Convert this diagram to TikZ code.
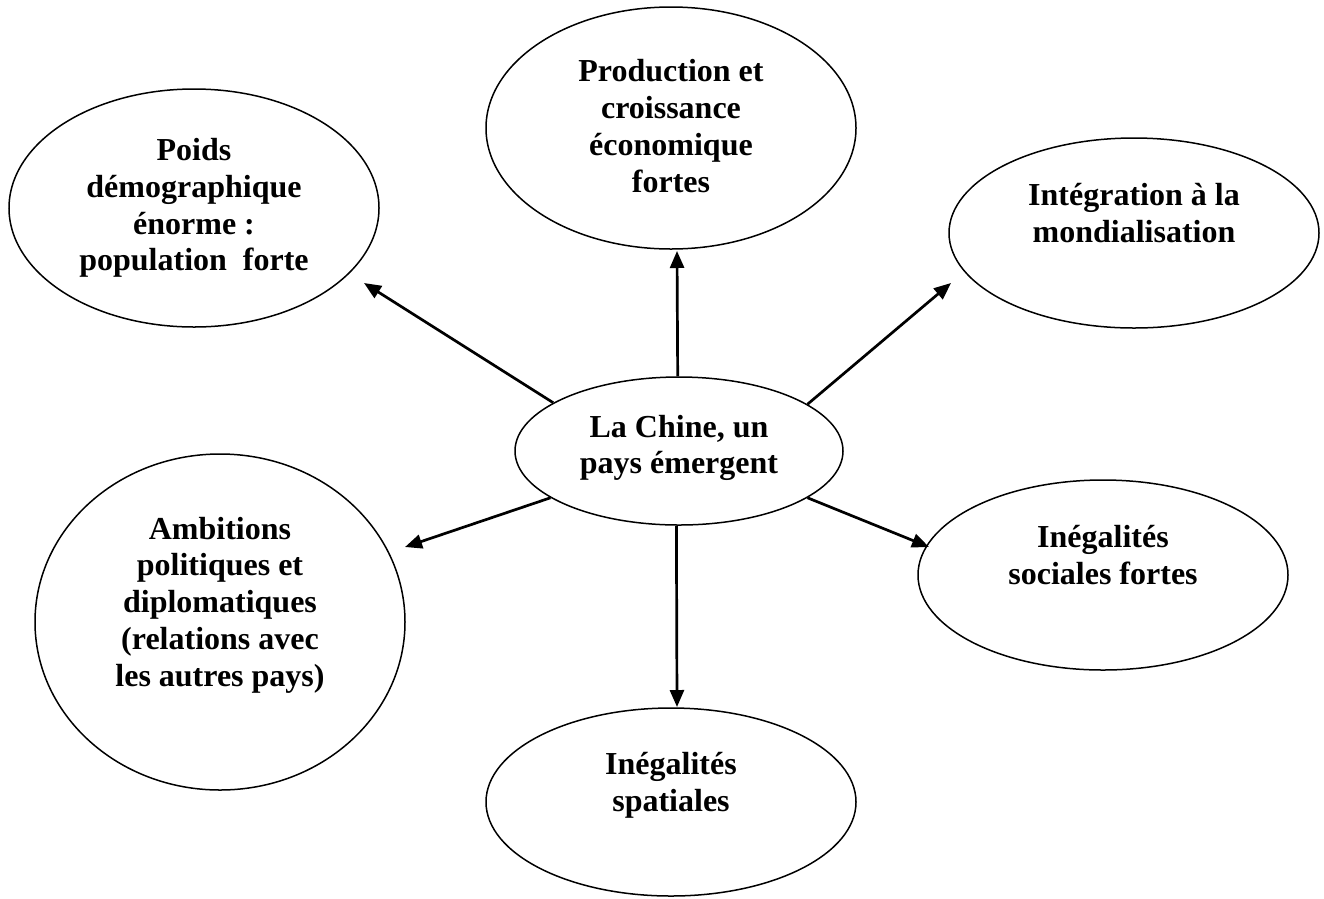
\documentclass[tikz,border=0pt]{standalone}
\usepackage{fontspec}
\setmainfont{Liberation Serif}
\usetikzlibrary{shapes.geometric,arrows.meta,calc}
\begin{document}
\begin{tikzpicture}[x=1pt,y=-1pt,
  oval/.style={draw,ellipse,line width=1.5pt,inner sep=0pt},
  lbl/.style={align=center,inner sep=0pt,font=\fontsize{32}{36.8}\selectfont\bfseries},
  arr/.style={line width=2.7pt,-{Triangle[length=17pt,width=14pt]}}]
\useasboundingbox (0,0) rectangle (1324,898);
% ellipses
\node[oval,minimum width=370,minimum height=238] (poids) at (194,208) {};
\node[oval,minimum width=370,minimum height=242] (prod) at (671,128) {};
\node[oval,minimum width=370,minimum height=190] (integ) at (1134,233) {};
\node[oval,minimum width=328,minimum height=148] (chine) at (679,451) {};
\node[oval,minimum width=370,minimum height=336] (amb) at (220,622) {};
\node[oval,minimum width=370,minimum height=190] (soc) at (1103,575) {};
\node[oval,minimum width=370,minimum height=188] (spat) at (671,802) {};
% texts
\node[lbl] (poidsT) at (194,208) {Poids\\démographique\\énorme :\\population\ \ forte};
\node[lbl] (prodT) at (671,126) {Production et\\croissance\\économique\\fortes};
\node[lbl] (integT) at (1134,213) {Intégration à la\\mondialisation};
\node[lbl] (chineT) at (679,448) {La Chine, un\\pays émergent};
\node[lbl] (ambT) at (220,605) {Ambitions\\politiques et\\diplomatiques\\(relations avec\\les autres pays)};
\node[lbl] (socT) at (1103,555) {Inégalités\\sociales fortes};
\node[lbl] (spatT) at (671,785) {Inégalités\\spatiales};
% arrows
\draw[arr] (chine.159.5) -- ($(poids.center)+(170,75)$);
\draw[arr] (chine.91.5) -- ($(prod.center)+(6,123)$);
\draw[arr] (chine.20) -- ($(integ.center)+(-183,50)$);
\draw[arr] (chine.200) -- ($(amb.center)+(185,-75)$);
\draw[arr] (chine.340.8) -- ($(soc.center)+(-174,-28)$);
\draw[arr] (chine.268.5) -- ($(spat.center)+(6,-95)$);
\end{tikzpicture}
\end{document}
